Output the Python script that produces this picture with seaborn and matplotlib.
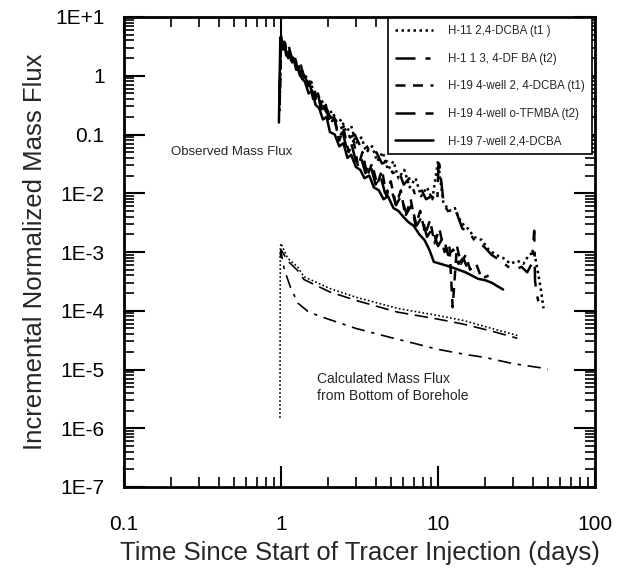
import numpy as np
import pandas as pd
import matplotlib
matplotlib.use("Agg")
import matplotlib.pyplot as plt
import seaborn as sns
from matplotlib.ticker import LogLocator, FixedLocator, FixedFormatter, NullFormatter

# --- observed mass flux ---
t_h11_dcba = [0.98, 1.0, 1.04, 1.09, 1.14, 1.2, 1.27, 1.35, 1.43, 1.52, 1.62, 1.73, 1.85, 1.98,
              2.12, 2.27, 2.43, 2.6, 2.8, 3.0, 3.25, 3.5, 3.8, 4.1, 4.45, 4.8, 5.2, 5.6, 6.1, 6.6,
              7.2, 7.8, 8.5, 9.2, 10, 10.8, 11.8, 12.8, 14, 15.5, 17, 19, 21, 23.5, 26, 29, 32,
              35, 38, 41, 43, 45, 47]
f_h11_dcba = [0.25, 4.0, 3.2, 2.8, 2.2, 2.0, 1.6, 1.26, 1.0, 0.79, 0.56, 0.45, 0.35, 0.22,
              0.25, 0.16, 0.18, 0.11, 0.14, 0.071, 0.089, 0.05, 0.063, 0.035, 0.05, 0.025, 0.035,
              0.018, 0.025, 0.0126, 0.018, 0.0089, 0.0126, 0.0079, 0.035, 0.0071, 0.005, 0.0056,
              0.0032, 0.0025, 0.0018, 0.0016, 0.0011, 8.9e-4, 7.9e-4, 6.3e-4, 7.1e-4, 6.3e-4,
              8.9e-4, 1.0e-3, 5.0e-4, 2.5e-4, 1.1e-4]

t_h11_dfba = [0.98, 1.0, 1.05, 1.1, 1.16, 1.23, 1.3, 1.38, 1.47, 1.57, 1.68, 1.8, 1.93, 2.07,
              2.22, 2.38, 2.55, 2.75, 2.95, 3.2, 3.45, 3.75, 4.05, 4.4, 4.75, 5.15, 5.6, 6.05,
              6.55, 7.1, 7.7, 8.4, 9.1, 9.9, 10.1, 10.9, 11.9, 13, 14.3, 15.8, 17.5, 19.5, 22,
              25, 28, 31, 34, 37, 39.5, 41, 41.5, 42.5, 44]
f_h11_dfba = [0.4, 3.5, 3.8, 2.5, 2.0, 1.8, 1.26, 1.1, 0.79, 0.63, 0.45, 0.35, 0.25, 0.2,
              0.18, 0.126, 0.14, 0.089, 0.1, 0.063, 0.071, 0.045, 0.05, 0.032, 0.035, 0.022,
              0.025, 0.014, 0.018, 0.01, 0.0126, 0.0079, 0.0089, 0.0071, 0.04, 0.0063, 0.0045,
              0.005, 0.0025, 0.0022, 0.0014, 0.00126, 8.9e-4, 7.1e-4, 5.6e-4, 5.0e-4, 5.6e-4,
              4.5e-4, 6.3e-4, 2.3e-3, 3.2e-4, 2.0e-4, 1.26e-4]

t_h19_4w_dcba = [0.98, 1.0, 1.04, 1.08, 1.12, 1.17, 1.22, 1.28, 1.34, 1.4, 1.48, 1.56, 1.65,
                 1.75, 1.85, 1.96, 2.08, 2.2, 2.35, 2.5, 2.7, 2.9, 3.1, 3.3, 3.55, 3.8, 4.1,
                 4.4, 4.7, 5.0, 5.4, 5.8, 6.2, 6.7, 7.2, 7.7, 8.3, 8.9, 9.5, 10.2, 11, 11.8,
                 12.4, 13.2, 14, 15, 16, 17.5, 19, 21]
f_h19_4w_dcba = [0.32, 3.5, 4.2, 2.5, 3.2, 2.0, 2.2, 1.26, 1.5, 0.89, 0.71, 0.79, 0.4, 0.45,
                 0.25, 0.28, 0.16, 0.18, 0.079, 0.126, 0.05, 0.079, 0.028, 0.05, 0.02, 0.032,
                 0.014, 0.025, 0.0089, 0.016, 0.0063, 0.0112, 0.004, 0.0079, 0.0028, 0.005,
                 0.002, 0.0035, 0.0014, 0.0025, 0.001, 0.0014, 1.15e-4, 0.00126, 6.3e-4,
                 8.9e-4, 5.0e-4, 6.3e-4, 3.5e-4, 4.0e-4]

t_h19_4w_tfmba = [0.98, 1.0, 1.03, 1.07, 1.11, 1.15, 1.2, 1.26, 1.32, 1.38, 1.45, 1.53, 1.62,
                  1.72, 1.82, 1.93, 2.05, 2.18, 2.32, 2.47, 2.63, 2.8, 3.0, 3.2, 3.45, 3.7,
                  4.0, 4.3, 4.6, 5.0, 5.4, 5.8, 6.3, 6.8, 7.3, 7.9, 8.5, 9.2, 10, 10.8, 11.6,
                  12.5, 13.5, 14.5, 15.5, 17]
f_h19_4w_tfmba = [0.5, 5.0, 2.8, 3.5, 2.0, 2.4, 1.4, 1.6, 1.0, 1.1, 0.63, 0.71, 0.35, 0.5,
                  0.22, 0.32, 0.14, 0.2, 0.089, 0.11, 0.056, 0.071, 0.035, 0.045, 0.022,
                  0.032, 0.014, 0.02, 0.01, 0.0126, 0.0063, 0.0089, 0.0045, 0.0063, 0.0028,
                  0.004, 0.0018, 0.0025, 0.00126, 0.0018, 8.9e-4, 0.0011, 6.3e-4, 7.9e-4,
                  5.0e-4, 4.5e-4]

t_h19_7w_dcba = [0.97, 0.99, 1.02, 1.05, 1.08, 1.12, 1.16, 1.2, 1.25, 1.3, 1.36, 1.42, 1.5,
                 1.58, 1.66, 1.75, 1.85, 1.95, 2.05, 2.2, 2.35, 2.5, 2.65, 2.8, 3.0, 3.2, 3.4,
                 3.65, 3.9, 4.2, 4.5, 4.8, 5.2, 5.6, 6.0, 6.5, 7.0, 7.6, 8.2, 8.8, 9.4, 12, 15,
                 18, 20, 22, 24, 26]
f_h19_7w_dcba = [0.16, 4.5, 3.2, 3.5, 2.2, 2.6, 1.8, 2.0, 1.26, 1.3, 0.89, 0.79, 0.5, 0.56,
                 0.32, 0.28, 0.18, 0.2, 0.11, 0.1, 0.063, 0.071, 0.04, 0.045, 0.028, 0.025,
                 0.018, 0.02, 0.0126, 0.0112, 0.0079, 0.0089, 0.0056, 0.005, 0.004, 0.0032,
                 0.0028, 0.002, 0.0016, 0.0011, 6.8e-4, 5.6e-4, 4.5e-4, 3.5e-4, 3.3e-4,
                 3.0e-4, 2.6e-4, 2.3e-4]

# --- calculated mass flux from bottom of borehole ---
t_calc_a = [0.985, 0.99, 1.0, 1.1, 1.28, 1.4, 2.04, 3.0, 5.5, 10, 14.6, 22, 32]
f_calc_a = [1.5e-6, 1.2e-3, 1.4e-3, 7.9e-4, 5.5e-4, 3.8e-4, 2.4e-4, 1.7e-4, 1.1e-4, 8.3e-5,
            6.8e-5, 5.0e-5, 3.8e-5]
t_calc_b = [0.99, 1.0, 1.1, 1.28, 1.4, 2.04, 3.0, 5.5, 10, 14.6, 22, 32]
f_calc_b = [9.0e-4, 1.1e-3, 7.1e-4, 4.8e-4, 3.4e-4, 2.1e-4, 1.5e-4, 9.5e-5, 7.2e-5, 5.9e-5,
            4.5e-5, 3.4e-5]
t_calc_c = [0.99, 1.0, 1.05, 1.15, 1.28, 1.5, 2, 3, 5, 7, 10, 15, 20, 30, 45, 50]
f_calc_c = [7.9e-4, 1.0e-3, 5.0e-4, 2.5e-4, 1.35e-4, 9.5e-5, 7.2e-5, 5.0e-5, 3.5e-5, 2.8e-5,
            2.2e-5, 1.8e-5, 1.6e-5, 1.26e-5, 1.07e-5, 1.0e-5]

y_ticks = [1e1, 1, 1e-1, 1e-2, 1e-3, 1e-4, 1e-5, 1e-6, 1e-7]
y_tick_labels = ["1E+1", "1", "0.1", "1E-2", "1E-3", "1E-4", "1E-5", "1E-6", "1E-7"]
x_ticks = [0.1, 1, 10, 100]
x_tick_labels = ["0.1", "1", "10", "100"]

sns.set_style("ticks")
plt.rcParams["font.family"] = ["Liberation Sans", "DejaVu Sans"]

fig = plt.figure(figsize=(6.24, 5.70), dpi=100)
ax = fig.add_axes([124 / 624, 83 / 570, 471 / 624, 470 / 570])
ax.set_xscale("log")
ax.set_yscale("log")

dotted = (0, (1.0, 1.4))
dashdot = (0, (8, 4, 2, 4))
short_dash = (0, (4, 3))
long_dash = (0, (8, 4))

observed = [
    ("H-11 2,4-DCBA (t1 )", t_h11_dcba, f_h11_dcba, dotted),
    ("H-1 1 3, 4-DF BA (t2)", t_h11_dfba, f_h11_dfba, dashdot),
    ("H-19 4-well 2, 4-DCBA (t1)", t_h19_4w_dcba, f_h19_4w_dcba, short_dash),
    ("H-19 4-well o-TFMBA (t2)", t_h19_4w_tfmba, f_h19_4w_tfmba, long_dash),
    ("H-19 7-well 2,4-DCBA", t_h19_7w_dcba, f_h19_7w_dcba, "-"),
]
for name, t, f, ls in observed:
    sns.lineplot(x=t, y=f, ax=ax, color="black", linewidth=1.8, linestyle=ls,
                 label=name, estimator=None, sort=False)

for t, f, ls in [(t_calc_a, f_calc_a, dotted), (t_calc_b, f_calc_b, long_dash),
                 (t_calc_c, f_calc_c, dashdot)]:
    sns.lineplot(x=t, y=f, ax=ax, color="black", linewidth=1.2, linestyle=ls,
                 estimator=None, sort=False)

ax.set_xlim(0.1, 100)
ax.set_ylim(1e-7, 10)

ax.xaxis.set_major_locator(FixedLocator(x_ticks))
ax.xaxis.set_major_formatter(FixedFormatter(x_tick_labels))
ax.xaxis.set_minor_locator(LogLocator(base=10, subs=np.arange(2, 10), numticks=100))
ax.xaxis.set_minor_formatter(NullFormatter())
ax.yaxis.set_major_locator(FixedLocator(y_ticks))
ax.yaxis.set_major_formatter(FixedFormatter(y_tick_labels))
ax.yaxis.set_minor_locator(LogLocator(base=10, subs=np.arange(2, 10), numticks=100))
ax.yaxis.set_minor_formatter(NullFormatter())

ax.tick_params(which="both", direction="in", top=True, right=True, colors="black")
ax.tick_params(which="major", length=15, width=1.5, labelsize=15)
ax.tick_params(axis="y", which="major", pad=14)
ax.tick_params(axis="x", which="major", pad=20)
ax.tick_params(which="minor", length=7, width=1.2)
for sp in ax.spines.values():
    sp.set_linewidth(2)
    sp.set_color("black")

ax.set_xlabel("Time Since Start of Tracer Injection (days)", fontsize=18.5, labelpad=5)
ax.set_ylabel("Incremental Normalized Mass Flux", fontsize=18.5, labelpad=6)

ax.text(0.2, 0.05, "Observed Mass Flux", fontsize=9.5, va="center", ha="left")
ax.text(1.69, 5.0e-6, "Calculated Mass Flux\nfrom Bottom of Borehole", fontsize=10,
        va="center", ha="left", linespacing=1.25)

leg = ax.legend(loc="upper right", bbox_to_anchor=(1.0, 1.005), fontsize=8.3,
                frameon=True, fancybox=False, edgecolor="black", framealpha=1,
                handlelength=3.3, handletextpad=1.3, labelspacing=1.35, borderpad=0.6,
                borderaxespad=0.3)
leg.get_frame().set_linewidth(1.2)

fig.savefig("out.png", dpi=100)
